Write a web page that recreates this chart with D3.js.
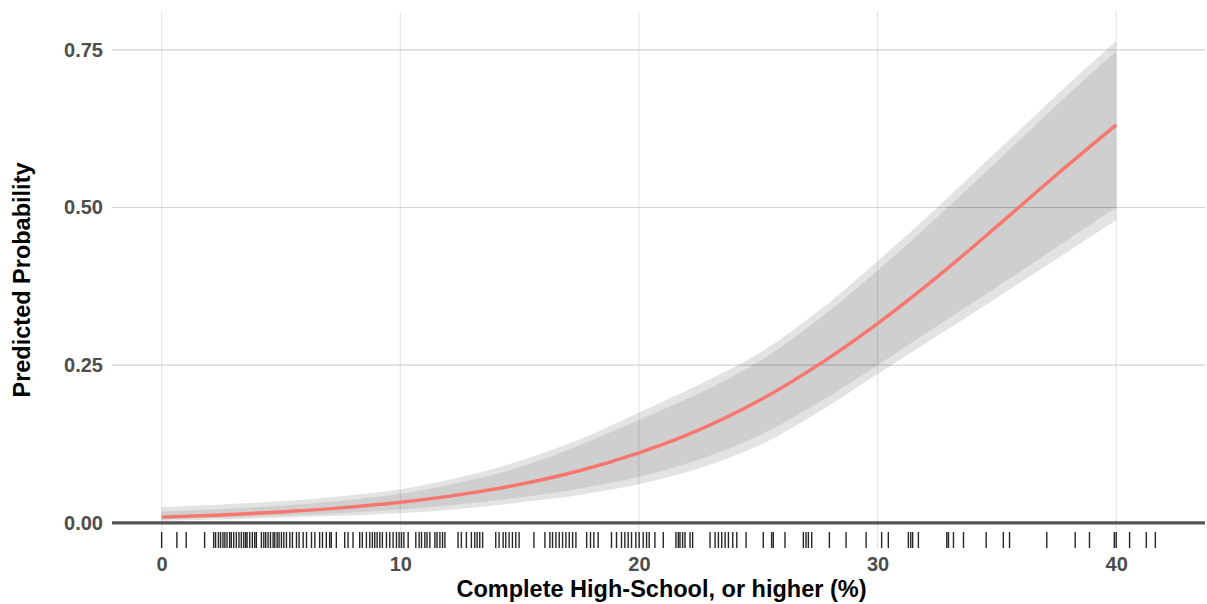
<!DOCTYPE html>
<html><head><meta charset="utf-8">
<script src="https://cdn.jsdelivr.net/npm/d3@7"></script>
<style>body{margin:0;background:#fff}svg{display:block}</style>
</head><body>
<svg id="c" width="1207" height="604"></svg>
<script>
// Predicted probability curve
const fitX = [0, 2.5, 5, 7.5, 10, 12.5, 15, 17.5, 20, 22.5, 25, 27.5, 30, 32.5, 35, 37.5, 40];
const fitY = [0.009, 0.0124, 0.0172, 0.0237, 0.0326, 0.0446, 0.0608, 0.0825, 0.111, 0.147, 0.193, 0.250, 0.316, 0.390, 0.470, 0.552, 0.631];
// Confidence bands
const bandX   = [0, 2.5, 5, 7.5, 10, 12.5, 15, 17.5, 20, 22.5, 25, 27.5, 30, 32.5, 35, 37.5, 40];
const innerLo = [0.005, 0.008, 0.011, 0.015, 0.021, 0.029, 0.040, 0.054, 0.073, 0.100, 0.138, 0.190, 0.250, 0.312, 0.374, 0.437, 0.500];
const innerHi = [0.018, 0.022, 0.027, 0.035, 0.046, 0.064, 0.088, 0.123, 0.163, 0.205, 0.255, 0.322, 0.400, 0.485, 0.573, 0.662, 0.748];
const outerLo = [0.003, 0.005, 0.008, 0.011, 0.015, 0.022, 0.032, 0.044, 0.061, 0.086, 0.122, 0.175, 0.236, 0.296, 0.357, 0.418, 0.480];
const outerHi = [0.025, 0.029, 0.034, 0.042, 0.053, 0.072, 0.098, 0.132, 0.175, 0.219, 0.268, 0.335, 0.415, 0.500, 0.589, 0.678, 0.764];
// Rug of observed values
const rugX = [0.00, 0.64, 1.03, 1.80, 2.18, 2.26, 2.38, 2.47, 2.57, 2.65, 2.74, 2.85, 2.92, 3.02, 3.13, 3.24, 3.34, 3.44, 3.52, 3.58, 3.69, 3.80, 3.90, 3.97,
  4.18, 4.28, 4.36, 4.46, 4.56, 4.67, 4.74, 4.84, 4.92, 5.02, 5.12, 5.23, 5.37, 5.48, 5.65, 5.76, 5.93, 6.07, 6.28, 6.42, 6.62, 6.74, 6.90, 7.04, 7.11, 7.32,
  7.67, 7.81, 8.02, 8.30, 8.41, 8.58, 8.72, 8.83, 8.93, 9.03, 9.14, 9.25, 9.42, 9.56, 9.70, 9.84, 9.95,
  10.05, 10.15, 10.33, 10.65, 10.79, 10.89, 11.03, 11.12, 11.24, 11.45, 11.54, 11.66, 11.77, 11.87, 12.42, 12.56, 12.77, 12.98, 13.12, 13.22, 13.33, 13.45,
  14.00, 14.14, 14.31, 14.42, 14.56, 14.70, 14.84, 14.98, 15.60, 16.06, 16.27, 16.38, 16.52, 16.66, 16.80, 16.94, 17.08, 17.22, 17.36, 17.81, 17.97, 18.11, 18.29,
  18.85, 19.06, 19.27, 19.41, 19.55, 19.69, 19.87, 20.01, 20.18, 20.32, 20.43,
  20.67, 21.02, 21.55, 21.65, 21.72, 21.83, 21.93, 22.14, 22.25, 22.98, 23.19, 23.33, 23.47, 23.61, 23.75, 23.93, 24.10, 24.49, 25.21, 25.56, 25.63, 26.12,
  26.89, 27.00, 27.10, 27.24, 27.98, 28.68, 29.52, 30.17, 30.45,
  31.29, 31.39, 31.47, 31.71, 32.90, 32.97, 33.18, 33.60, 34.55, 35.27, 35.53, 37.09, 38.28, 38.88, 39.92, 40.00, 40.56, 41.26, 41.64];
const xTicks = [0, 10, 20, 30, 40];
const yTicks = [0, 0.25, 0.50, 0.75];
const xTitle = "Complete High-School, or higher (%)";
const yTitle = "Predicted Probability";

const svg = d3.select("#c");
const P = {l: 112, r: 1205, t: 12, b: 548};
const x = d3.scaleLinear().domain([-2.08, 43.72]).range([P.l, P.r]);
const y = d3.scaleLinear().domain([-0.04, 0.81]).range([P.b, P.t]);

// grid
svg.append("g").selectAll("line").data(xTicks).join("line")
  .attr("x1", d => x(d)).attr("x2", d => x(d)).attr("y1", P.t).attr("y2", P.b)
  .attr("stroke", "#e4e4e4").attr("stroke-width", 1.1);
svg.append("g").selectAll("line").data(yTicks.filter(d => d > 0)).join("line")
  .attr("x1", P.l).attr("x2", P.r).attr("y1", d => y(d)).attr("y2", d => y(d))
  .attr("stroke", "#d2d2d2").attr("stroke-width", 1.1);

// bands
const bandOuter = bandX.map((v, i) => ({x: v, lo: outerLo[i], hi: outerHi[i]}));
const bandInner = bandX.map((v, i) => ({x: v, lo: innerLo[i], hi: innerHi[i]}));
const area = d3.area().x(d => x(d.x)).y0(d => y(d.lo)).y1(d => y(d.hi)).curve(d3.curveCatmullRom);
svg.append("path").datum(bandOuter).attr("d", area).attr("fill", "#000").attr("fill-opacity", 0.11);
svg.append("path").datum(bandInner).attr("d", area).attr("fill", "#000").attr("fill-opacity", 0.085);

// fit line
const fit = fitX.map((v, i) => ({x: v, y: fitY[i]}));
svg.append("path").datum(fit)
  .attr("d", d3.line().x(d => x(d.x)).y(d => y(d.y)).curve(d3.curveMonotoneX))
  .attr("fill", "none").attr("stroke", "#f8766d").attr("stroke-width", 3.4);

// zero line
svg.append("line").attr("x1", P.l).attr("x2", P.r).attr("y1", y(0)).attr("y2", y(0))
  .attr("stroke", "#555").attr("stroke-width", 3.2);

// rug
svg.append("g").selectAll("line").data(rugX).join("line")
  .attr("x1", d => x(d)).attr("x2", d => x(d)).attr("y1", P.b - 16).attr("y2", P.b)
  .attr("stroke", "#000").attr("stroke-opacity", 0.85).attr("stroke-width", 1.4);

// axes (text only, like theme_minimal)
const font = "'Liberation Sans', Arial, Helvetica, sans-serif";
const xAxis = d3.axisBottom(x).tickValues(xTicks).tickFormat(d3.format("d")).tickSize(0).tickPadding(0);
const gx = svg.append("g").attr("transform", `translate(0,${P.b + 9})`).call(xAxis);
const yAxis = d3.axisLeft(y).tickValues(yTicks).tickFormat(d3.format(".2f")).tickSize(0).tickPadding(0);
const gy = svg.append("g").attr("transform", `translate(${P.l - 9},0)`).call(yAxis);
[gx, gy].forEach(g => {
  g.select(".domain").remove();
  g.selectAll("text").attr("font-family", font).attr("font-weight", "bold")
    .attr("font-size", 20).attr("fill", "#4d4d4d");
});
gx.selectAll("text").attr("dy", "0.71em");

svg.append("text").attr("x", (P.l + P.r) / 2 + 3).attr("y", 597)
  .attr("text-anchor", "middle").attr("font-family", font).attr("font-weight", "bold")
  .attr("font-size", 23.5).attr("fill", "#000").text(xTitle);
svg.append("text").attr("transform", `translate(30,${(P.t + P.b) / 2}) rotate(-90)`)
  .attr("text-anchor", "middle").attr("font-family", font).attr("font-weight", "bold")
  .attr("font-size", 23.5).attr("fill", "#000").text(yTitle);
</script>
</body></html>
